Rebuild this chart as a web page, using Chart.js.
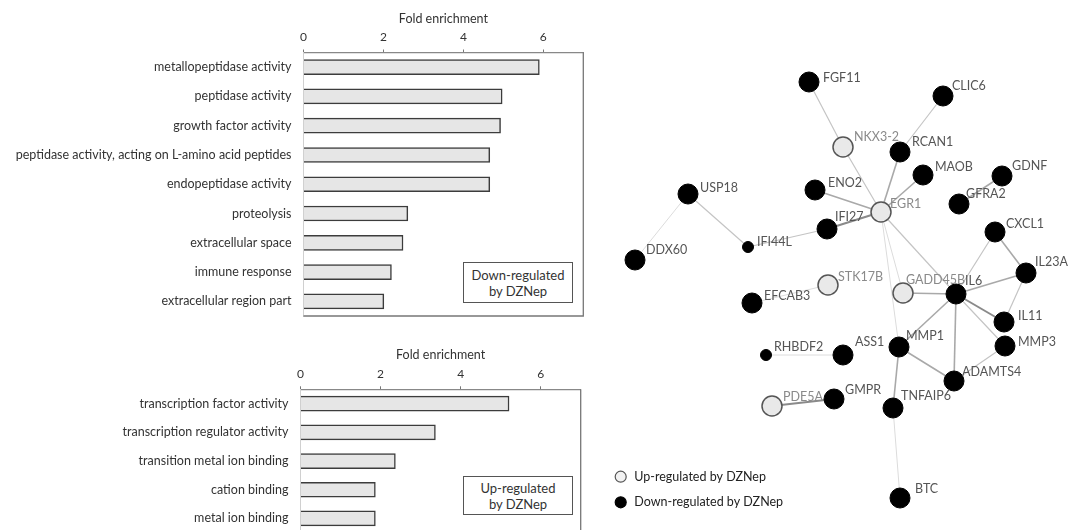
<!DOCTYPE html>
<html>
<head>
<meta charset="utf-8">
<script src="https://cdn.jsdelivr.net/npm/chart.js@4.4.1/dist/chart.umd.min.js"></script>
<style>
  html, body { margin: 0; padding: 0; background: #fff; }
  body { width: 1077px; height: 530px; overflow: hidden; position: relative; font-family: Lato, sans-serif; }
  .wrap { position: absolute; }
  .box { position: absolute; border: 1px solid #555; background: #fff; box-sizing: border-box;
         display: flex; flex-direction: column; justify-content: center; align-items: center;
         font-size: 13px; line-height: 16px; color: #333; }
</style>
</head>
<body>
<div class="wrap" style="left:0;top:0;width:600px;height:330px"><canvas id="downChart"></canvas></div>
<div class="wrap" style="left:0;top:336px;width:600px;height:204px"><canvas id="upChart"></canvas></div>
<div class="wrap" style="left:600px;top:0;width:477px;height:530px"><canvas id="network"></canvas></div>
<div class="box" style="left:463px;top:262px;width:110px;height:41px"><span>Down-regulated</span><span>by DZNep</span></div>
<div class="box" style="left:463px;top:476px;width:110px;height:39px"><span>Up-regulated</span><span>by DZNep</span></div>
<script>
// GO terms, down-regulated genes
const downTerms = [
  'metallopeptidase activity',
  'peptidase activity',
  'growth factor activity',
  'peptidase activity, acting on L-amino acid peptides',
  'endopeptidase activity',
  'proteolysis',
  'extracellular space',
  'immune response',
  'extracellular region part'
];
const downFold = [5.9, 4.97, 4.93, 4.66, 4.66, 2.61, 2.49, 2.2, 2.01];

// GO terms, up-regulated genes
const upTerms = [
  'transcription factor activity',
  'transcription regulator activity',
  'transition metal ion binding',
  'cation binding',
  'metal ion binding'
];
const upFold = [5.21, 3.37, 2.37, 1.87, 1.87];

const xTicks = [0, 2, 4, 6];
const xMax = 7;

// network nodes (layout coordinates) and regulation
const nodeNames = ['FGF11','CLIC6','NKX3-2','RCAN1','MAOB','GDNF','GFRA2','USP18','ENO2','EGR1',
  'IFI27','CXCL1','IFI44L','DDX60','IL23A','STK17B','GADD45B','IL6','EFCAB3','IL11',
  'MMP1','MMP3','RHBDF2','ASS1','ADAMTS4','GMPR','PDE5A','TNFAIP6','BTC'];
const nodeX = [209, 343, 243, 300, 323, 402, 359, 88, 215, 281,
  227, 395, 148, 35, 426, 228, 303, 356, 152, 404,
  299, 405, 166, 243, 354, 234, 172, 293, 300];
const nodeY = [82, 96, 147, 152, 175, 176, 204, 194, 190, 212,
  229, 232, 247, 260, 273, 285, 293, 294, 303, 322,
  347, 346, 355, 355, 381, 399, 406, 408, 498];
const nodeUp = [0,0,1,0,0,0,0,0,0,1,
  0,0,0,0,0,1,1,0,0,0,
  0,0,0,0,0,0,1,0,0];

// interactions and confidence (1 = low ... 4 = high)
const edgeFrom = ['FGF11','NKX3-2','CLIC6','RCAN1','MAOB','ENO2','IFI27','IFI27','IFI44L','USP18',
  'GDNF','EGR1','EGR1','EGR1','GADD45B','IL6','IL6','CXCL1','IL23A','IL6',
  'IL6','IL6','IL6','MMP1','ADAMTS4','MMP1','TNFAIP6','STK17B','RHBDF2','PDE5A'];
const edgeTo = ['NKX3-2','EGR1','RCAN1','EGR1','EGR1','EGR1','EGR1','IFI44L','USP18','DDX60',
  'GFRA2','IL6','GADD45B','MMP1','IL6','IL23A','CXCL1','IL23A','IL11','IL11',
  'MMP3','MMP1','ADAMTS4','ADAMTS4','MMP3','TNFAIP6','BTC','EFCAB3','ASS1','GMPR'];
const edgeScore = [2,2,2,3,3,3,4,2,2,1,
  3,2,1,1,3,3,2,3,2,4,
  2,3,3,3,2,3,1,1,1,4];

// ---- styles ----
const textColor = '#333';
const smallNodes = ['IFI44L', 'RHBDF2'];
const edgeColors = { 1: '#dcdcdc', 2: '#c4c4c4', 3: '#a9a9a9', 4: '#8a8a8a' };
const edgeWidths = { 1: 1, 2: 1.2, 3: 1.6, 4: 2 };
const labelOffset = {
  'FGF11': [14, -4], 'CLIC6': [9, -10], 'NKX3-2': [11, -10], 'RCAN1': [12, -10], 'MAOB': [12, -8],
  'GDNF': [10, -10], 'GFRA2': [7, -10], 'USP18': [12, -6], 'ENO2': [13, -7], 'EGR1': [9, -8],
  'IFI27': [8, -12], 'CXCL1': [11, -8], 'IFI44L': [9, -5], 'DDX60': [11, -10], 'IL23A': [9, -11],
  'STK17B': [10, -8], 'GADD45B': [3, -13], 'IL6': [9, -13], 'EFCAB3': [12, -7], 'IL11': [14, -6],
  'MMP1': [7, -11], 'MMP3': [13, -4], 'RHBDF2': [8, -8], 'ASS1': [12, -13], 'ADAMTS4': [8, -9],
  'GMPR': [11, -9], 'PDE5A': [11, -9], 'TNFAIP6': [8, -12], 'BTC': [15, -9]
};

const frame = {
  id: 'frame',
  afterDatasetsDraw(chart) {
    const a = chart.chartArea, ctx = chart.ctx;
    ctx.save();
    ctx.strokeStyle = '#777';
    ctx.lineWidth = 1.3;
    ctx.beginPath();
    ctx.moveTo(a.right, a.top);
    ctx.lineTo(a.right, a.bottom);
    ctx.lineTo(a.left, a.bottom);
    ctx.stroke();
    ctx.restore();
  }
};

function makeBarChart(id, labels, values, axisWidth, axisHeight, pad) {
  return new Chart(document.getElementById(id), {
    type: 'bar',
    data: {
      labels: labels,
      datasets: [{
        data: values,
        backgroundColor: '#e6e6e6',
        borderColor: '#3c3c3c',
        borderWidth: 1.5,
        barThickness: 15
      }]
    },
    options: {
      indexAxis: 'y',
      responsive: true,
      maintainAspectRatio: false,
      animation: false,
      layout: { padding: pad },
      plugins: { legend: { display: false }, tooltip: { enabled: false } },
      scales: {
        x: {
          position: 'top',
          min: 0,
          max: xMax,
          afterFit: s => { s.height = axisHeight; },
          afterBuildTicks: s => { s.ticks = xTicks.map(v => ({ value: v })); },
          grid: { drawOnChartArea: false, drawTicks: true, tickLength: 3, color: '#777' },
          border: { color: '#888', width: 1.3 },
          ticks: { color: textColor, font: { family: 'Lato', size: 12 }, padding: 5 },
          title: { display: true, text: 'Fold enrichment', color: textColor,
                   font: { family: 'Lato', size: 12.5 }, padding: { top: 11, bottom: 0 } }
        },
        y: {
          afterFit: s => { s.width = axisWidth; s.paddingTop = 0; s.paddingBottom = 0; },
          grid: { display: false, drawTicks: false },
          border: { color: '#d0d0d0', width: 1 },
          ticks: { color: textColor, font: { family: 'Lato', size: 12.5 }, padding: 12 }
        }
      }
    },
    plugins: [frame]
  });
}

makeBarChart('downChart', downTerms, downFold, 303.5, 52.5, { top: 0, left: 0, right: 16.7, bottom: 14 });
makeBarChart('upChart', upTerms, upFold, 300.5, 53.3, { top: 0, left: 0, right: 19.3, bottom: 7.2 });

// ---- network ----
const idx = name => nodeNames.indexOf(name);
const pt = name => ({ x: nodeX[idx(name)], y: nodeY[idx(name)] });

const nodeSet = {
  type: 'scatter',
  order: 0,
  data: nodeNames.map(n => pt(n)),
  pointRadius: nodeNames.map(n => smallNodes.includes(n) ? 5.5 : 10),
  pointBackgroundColor: nodeUp.map(u => u ? '#e9e9e9' : '#000'),
  pointBorderColor: nodeUp.map(u => u ? '#555' : '#000'),
  pointBorderWidth: nodeUp.map(u => u ? 1.5 : 1),
  pointHoverRadius: 10
};

const edgeSets = edgeFrom.map((f, i) => ({
  type: 'line',
  order: 1,
  data: [pt(f), pt(edgeTo[i])],
  borderColor: edgeColors[edgeScore[i]],
  borderWidth: edgeWidths[edgeScore[i]],
  pointRadius: 0,
  fill: false
}));

const nodeLabels = {
  id: 'nodeLabels',
  afterDatasetsDraw(chart) {
    const ctx = chart.ctx, sx = chart.scales.x, sy = chart.scales.y;
    ctx.save();
    ctx.font = '12.5px Lato';
    ctx.textBaseline = 'middle';
    ctx.textAlign = 'left';
    nodeNames.forEach((n, i) => {
      const off = labelOffset[n] || [10, -9];
      ctx.fillStyle = nodeUp[i] ? '#8a8a8a' : '#555';
      ctx.fillText(n, sx.getPixelForValue(nodeX[i]) + off[0], sy.getPixelForValue(nodeY[i]) + off[1]);
    });
    // legend
    const items = [['Up-regulated by DZNep', '#f2f2f2', '#555', 476.7], ['Down-regulated by DZNep', '#000', '#000', 502.3]];
    items.forEach(it => {
      ctx.beginPath();
      ctx.arc(20.7, it[3], 5.5, 0, Math.PI * 2);
      ctx.fillStyle = it[1];
      ctx.fill();
      ctx.lineWidth = 1.2;
      ctx.strokeStyle = it[2];
      ctx.stroke();
      ctx.fillStyle = '#222';
      ctx.fillText(it[0], 34.3, it[3]);
    });
    ctx.restore();
  }
};

new Chart(document.getElementById('network'), {
  type: 'scatter',
  data: { datasets: [nodeSet].concat(edgeSets) },
  options: {
    responsive: true,
    maintainAspectRatio: false,
    animation: false,
    layout: { padding: 0, autoPadding: false },
    plugins: { legend: { display: false }, tooltip: { enabled: false } },
    scales: {
      x: { type: 'linear', min: 0, max: 477, display: false },
      y: { type: 'linear', min: 0, max: 530, reverse: true, display: false }
    }
  },
  plugins: [nodeLabels]
});
</script>
</body>
</html>
